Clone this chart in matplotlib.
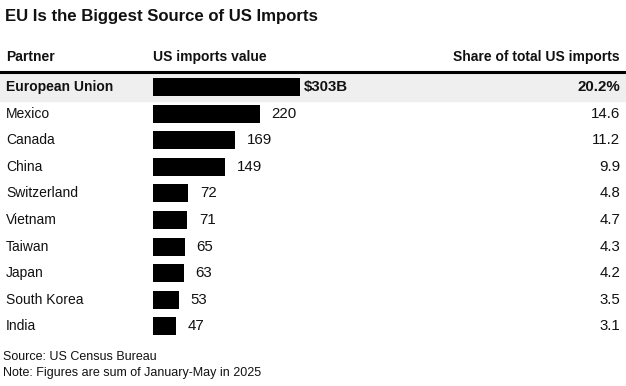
import matplotlib
matplotlib.use('Agg')
import matplotlib.pyplot as plt
from matplotlib.patches import Rectangle
import matplotlib.transforms as mtransforms

partners = ["European Union", "Mexico", "Canada", "China", "Switzerland",
            "Vietnam", "Taiwan", "Japan", "South Korea", "India"]
imports_bn = [303, 220, 169, 149, 72, 71, 65, 63, 53, 47]
share_pct = [20.2, 14.6, 11.2, 9.9, 4.8, 4.7, 4.3, 4.2, 3.5, 3.1]

W, H = 626, 386
plt.rcParams['font.family'] = ['Liberation Sans', 'DejaVu Sans']
fig = plt.figure(figsize=(W / 100, H / 100), dpi=100)

def fx(px):
    return px / W

def fy(py):
    return 1 - py / H

# bar axes: rows centred at 87 + 26.6*i px
row0, step = 87.0, 26.6
top = row0 - step / 2
bot = row0 + step * (len(partners) - 0.5)
bar_left, bar_right = 153, 300
ax = fig.add_axes([fx(bar_left), fy(bot), fx(bar_right - bar_left), (bot - top) / H])
ax.set_xlim(0, max(imports_bn))
ax.set_ylim(len(partners) - 0.5, -0.5)
ax.axis('off')

yrows = list(range(len(partners)))
blend = mtransforms.blended_transform_factory(fig.transFigure, ax.transData)

# highlight band for first row
ax.add_patch(Rectangle((0, -0.5), 1, 1.03, transform=blend, color='#efefef',
                       zorder=0, clip_on=False))

ax.barh(yrows, imports_bn, height=0.67, color='black', zorder=2)

for i, (p, v, s) in enumerate(zip(partners, imports_bn, share_pct)):
    bold = i == 0
    fw = 'bold' if bold else 'normal'
    ax.text(fx(6), i, p, transform=blend, ha='left', va='center',
            fontsize=10, fontweight=fw, color='#111111')
    lab = f"${v}B" if bold else f"{v}"
    off = 4 if bold else 12
    ax.annotate(lab, (v, i), xytext=(off * 0.72, 0), textcoords='offset points',
                ha='left', va='center', fontsize=10.8, fontweight=fw, color='#111111')
    slab = f"{s}%" if bold else f"{s}"
    ax.text(fx(620), i, slab, transform=blend, ha='right', va='center',
            fontsize=10.8, fontweight=fw, color='#111111')

# title and headers
fig.text(fx(5), fy(17), "EU Is the Biggest Source of US Imports", ha='left',
         va='center', fontsize=12.1, fontweight='bold', color='#111111')
fig.text(fx(6), fy(57), "Partner", ha='left', va='center', fontsize=10,
         fontweight='bold', color='#111111')
fig.text(fx(153), fy(57), "US imports value", ha='left', va='center', fontsize=10,
         fontweight='bold', color='#111111')
fig.text(fx(620), fy(57), "Share of total US imports", ha='right', va='center',
         fontsize=10, fontweight='bold', color='#111111')
fig.add_artist(plt.Line2D([0, 1], [fy(72), fy(72)], transform=fig.transFigure,
                          color='black', linewidth=2.2))

# footer
fig.text(fx(3), fy(357), "Source: US Census Bureau", ha='left', va='center',
         fontsize=9, color='#111111')
fig.text(fx(3), fy(373), "Note: Figures are sum of January-May in 2025", ha='left',
         va='center', fontsize=9, color='#111111')

fig.savefig("out.png", dpi=100, facecolor='white')
